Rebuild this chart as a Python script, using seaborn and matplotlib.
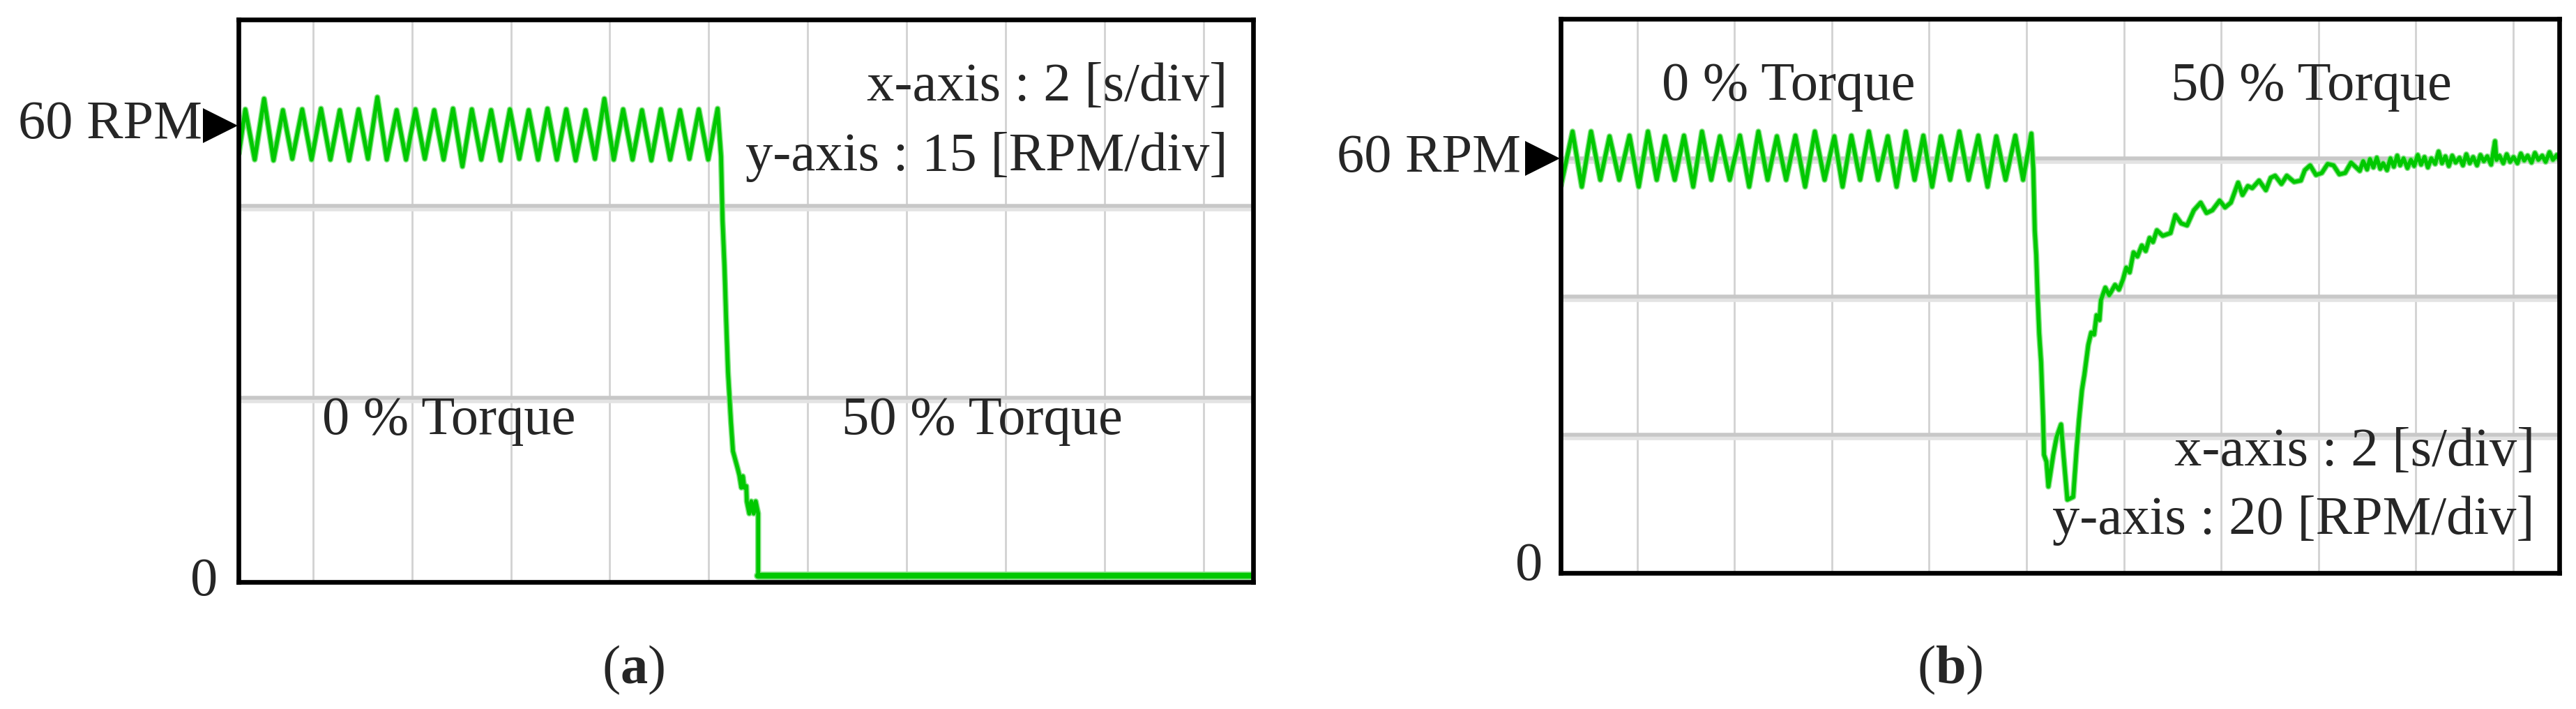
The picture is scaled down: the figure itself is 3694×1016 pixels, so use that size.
import matplotlib
matplotlib.use("Agg")
import matplotlib.pyplot as plt
import seaborn as sns
from matplotlib.transforms import offset_copy

# ---- data ----
# (a) speed before/after 50 % torque step, time in s, speed in RPM
a_peak_t = [0.63, 1.01, 1.39, 1.78, 2.16, 2.54, 2.92, 3.30, 3.69, 4.07, 4.45, 4.83, 5.21,
            5.60, 5.98, 6.36, 6.74, 7.12, 7.51, 7.89, 8.27, 8.65, 9.03, 9.42, 9.80, 10.18]
a_peak_rpm = [62.1, 63.5, 62.0, 62.1, 62.2, 62.0, 62.1, 63.7, 62.0, 62.1, 62.0, 62.2, 62.1,
              62.0, 62.1, 62.0, 62.2, 62.1, 62.0, 63.5, 62.1, 62.0, 62.1, 62.0, 62.1, 62.2]
a_trough_t = [0.82, 1.20, 1.58, 1.97, 2.35, 2.73, 3.11, 3.49, 3.88, 4.26, 4.64, 5.02, 5.40,
              5.79, 6.17, 6.55, 6.93, 7.31, 7.70, 8.08, 8.46, 8.84, 9.22, 9.61, 9.99]
a_trough_rpm = [55.5, 55.4, 55.6, 55.5, 55.5, 55.4, 55.6, 55.5, 55.5, 55.6, 55.5, 54.6, 55.5,
                55.4, 55.6, 55.5, 55.5, 55.4, 55.6, 55.5, 55.5, 55.4, 55.5, 55.6, 55.5]
a_start = (0.50, 56.3)
a_drop_t = [10.25, 10.28, 10.32, 10.35, 10.39, 10.45, 10.49, 10.59, 10.62, 10.66, 10.69,
            10.72, 10.76, 10.77, 10.82, 10.86, 10.91, 10.95, 11.00, 11.00]
a_drop_rpm = [55.9, 47.5, 41.3, 35.0, 27.6, 21.0, 17.2, 14.8, 14.0, 12.4, 13.9,
              12.4, 12.6, 10.6, 9.0, 10.6, 9.0, 10.6, 9.0, 0.8]
a_zero_t = [11.00, 21.02]
a_zero_rpm = [0.8, 0.8]

# (b) speed with speed-loop compensation
b_peak_t = [0.67, 1.05, 1.43, 1.84, 2.22, 2.57, 2.96, 3.33, 3.70, 4.11, 4.49, 4.87, 5.25,
            5.65, 6.05, 6.40, 6.76, 7.15, 7.52, 7.88, 8.24, 8.62, 9.01, 9.38, 9.77, 10.10]
b_peak_rpm = [63.9, 63.9, 63.2, 63.3, 63.9, 63.2, 63.3, 63.9, 63.2, 63.3, 63.9, 63.2, 63.3,
              63.9, 63.2, 63.3, 63.9, 63.2, 63.9, 63.3, 63.2, 63.9, 63.3, 63.2, 63.3, 63.6]
b_trough_t = [0.86, 1.24, 1.63, 2.03, 2.40, 2.77, 3.15, 3.52, 3.90, 4.30, 4.68, 5.06, 5.45,
              5.85, 6.22, 6.58, 6.95, 7.33, 7.70, 8.06, 8.43, 8.81, 9.20, 9.57, 9.93]
b_trough_rpm = [55.9, 56.9, 56.9, 55.9, 56.9, 56.9, 55.9, 56.9, 56.9, 55.9, 56.9, 56.9, 55.9,
                56.9, 55.9, 56.9, 56.9, 55.9, 56.9, 55.9, 56.9, 56.9, 55.9, 56.9, 56.9]
b_start = (0.43, 56.0)
b_dip_t = [10.14, 10.17, 10.20, 10.23, 10.26, 10.30, 10.32, 10.34, 10.36, 10.41, 10.45,
           10.55, 10.62, 10.71, 10.76, 10.84, 10.96, 11.03, 11.08, 11.14, 11.19, 11.27,
           11.33, 11.39, 11.44, 11.50, 11.53, 11.62, 11.70, 11.82, 11.90, 11.98, 12.05,
           12.12, 12.20, 12.28, 12.37, 12.45, 12.53, 12.60, 12.68, 12.80, 12.96, 13.06,
           13.18, 13.30, 13.44, 13.58, 13.70, 13.82, 13.97, 14.08, 14.20, 14.35, 14.44,
           14.55, 14.64, 14.78, 14.92, 15.02, 15.11, 15.24, 15.35, 15.50, 15.64, 15.72,
           15.83, 15.95, 16.07, 16.19, 16.31, 16.43, 16.55, 16.67, 16.79]
b_dip_rpm = [58.4, 49.6, 46.0, 39.9, 34.8, 30.5, 26.5, 22.6, 17.1, 16.1, 12.5,
             17.1, 19.7, 21.5, 17.1, 10.6, 11.0, 17.9, 22.2, 26.5, 28.7, 33.0,
             34.8, 34.5, 37.3, 36.6, 39.5, 41.3, 40.2, 41.7, 41.0, 42.4, 44.2,
             43.5, 46.4, 45.8, 47.4, 46.6, 48.5, 47.9, 49.6, 48.8, 49.2, 51.8,
             50.6, 50.3, 52.5, 53.6, 52.1, 52.5, 53.9, 52.9, 53.6, 56.5, 54.7,
             56.0, 55.7, 56.8, 55.4, 57.2, 57.5, 56.3, 57.5, 56.6, 56.8, 58.3,
             59.0, 57.6, 57.9, 59.2, 59.0, 57.7, 57.9, 59.4, 58.6]
b_tail_t = [16.85, 16.92, 17.00, 17.06, 17.13, 17.20, 17.27, 17.33, 17.41, 17.48, 17.55,
            17.62, 17.68, 17.75, 17.83, 17.90, 17.97, 18.04, 18.11, 18.18, 18.25, 18.32,
            18.40, 18.47, 18.54, 18.61, 18.68, 18.75, 18.82, 18.90, 18.97, 19.04, 19.11,
            19.18, 19.26, 19.33, 19.40, 19.47, 19.55, 19.63, 19.66, 19.72, 19.80, 19.87,
            19.94, 20.01, 20.09, 20.16, 20.23, 20.30, 20.38, 20.45, 20.52, 20.60, 20.67,
            20.75, 20.82, 20.90, 20.96]
b_tail_rpm = [58.2, 59.6, 58.4, 59.9, 58.7, 60.1, 58.5, 59.3, 58.3, 60.0, 58.8,
              60.4, 59.0, 60.0, 58.6, 59.8, 58.9, 60.5, 59.1, 60.2, 58.7, 60.0,
              59.2, 61.0, 59.3, 60.3, 58.9, 60.4, 59.4, 60.1, 59.0, 60.6, 59.3,
              60.2, 59.0, 60.5, 59.6, 60.3, 59.1, 62.5, 59.8, 60.4, 59.3, 60.6,
              59.5, 60.2, 59.3, 60.7, 59.7, 60.4, 59.4, 60.8, 59.8, 60.4, 59.5,
              60.9, 59.8, 60.5, 59.7]

x_grid = [2, 4, 6, 8, 10, 12, 14, 16, 18, 20]
a_ygrid = [24.2, 49.4]
b_ygrid = [20, 40, 60]


def build_trace(start, peak_t, peak_v, trough_t, trough_v, tail_t, tail_v):
    t = [start[0]]
    v = [start[1]]
    for i in range(len(peak_t)):
        t.append(peak_t[i]); v.append(peak_v[i])
        if i < len(trough_t):
            t.append(trough_t[i]); v.append(trough_v[i])
    return t + tail_t, v + tail_v


a_t, a_rpm = build_trace(a_start, a_peak_t, a_peak_rpm, a_trough_t, a_trough_rpm,
                         a_drop_t, a_drop_rpm)
b_t, b_rpm = build_trace(b_start, b_peak_t, b_peak_rpm, b_trough_t, b_trough_rpm,
                         b_dip_t + b_tail_t, b_dip_rpm + b_tail_rpm)

sns.set_style("white")
plt.rcParams['font.family'] = ['Liberation Serif', 'DejaVu Serif']
plt.rcParams['mathtext.fontset'] = 'custom'
plt.rcParams['mathtext.rm'] = 'Liberation Serif'
plt.rcParams['mathtext.bf'] = 'Liberation Serif:bold'

GREEN = '#00c800'
HALO = '#86e286'
FS = 56.5

fig = plt.figure(figsize=(36.94, 10.16), dpi=100)
ax_a = fig.add_axes([0.0926, 0.1791, 0.3939, 0.7933])
ax_b = fig.add_axes([0.6058, 0.1919, 0.3877, 0.7815])


def setup(ax, xlim, ylim, ygrid):
    ax.set_xlim(*xlim)
    ax.set_ylim(*ylim)
    ax.set_xticks([])
    ax.set_yticks([])
    for s in ax.spines.values():
        s.set_visible(True)
        s.set_color('black')
        s.set_linewidth(4.8)
        s.set_zorder(5)
    for x in x_grid:
        ax.axvline(x, color='#d2d2d2', lw=2.0, zorder=1)
    # scope grid: darker line with a pale band just below it
    low = offset_copy(ax.transData, fig=fig, x=0, y=-5, units='dots')
    for y in ygrid:
        ax.plot(xlim, [y, y], color='#e3e3e3', lw=4, zorder=1, transform=low)
        ax.axhline(y, color='#c8c8c8', lw=4, zorder=1.2)


def trace(ax, t, v, lw_core=4.0, lw_halo=6.2):
    sns.lineplot(x=t, y=v, ax=ax, estimator=None, sort=False, color=HALO,
                 lw=lw_halo, zorder=3)
    sns.lineplot(x=t, y=v, ax=ax, estimator=None, sort=False, color=GREEN,
                 lw=lw_core, zorder=4)


def speed_marker(ax, y, gap_px):
    ytr = ax.get_yaxis_transform()
    ax.plot([0], [y], marker='>', ms=36, mew=0, color='black', clip_on=False,
            transform=offset_copy(ytr, fig=fig, x=-26, y=0, units='dots'), zorder=6)
    ax.annotate('60 RPM', xy=(0, y), xycoords=ytr, xytext=(-gap_px / 1.389, 0),
                textcoords='offset points', ha='right', va='center', fontsize=FS)


def zero_label(ax, gap_px, dy_px):
    ax.annotate('0', xy=(0, 0), xycoords=ax.get_yaxis_transform(),
                xytext=(-gap_px / 1.389, dy_px / 1.389), textcoords='offset points',
                ha='right', va='center', fontsize=FS)


# ---- (a) ----
setup(ax_a, (0.493, 21.01), (0, 73.9), a_ygrid)
trace(ax_a, a_t, a_rpm)
trace(ax_a, a_zero_t, a_zero_rpm, lw_core=6.0, lw_halo=8.5)
speed_marker(ax_a, 60, 52)
zero_label(ax_a, 30, 0)
ax_a.text(0.207, 0.263, '0 % Torque', transform=ax_a.transAxes, ha='center',
          va='baseline', fontsize=FS)
ax_a.text(0.733, 0.263, '50 % Torque', transform=ax_a.transAxes, ha='center',
          va='baseline', fontsize=FS)
ax_a.text(0.975, 0.856, 'x-axis : 2 [s/div]', transform=ax_a.transAxes, ha='right',
          va='baseline', fontsize=FS)
ax_a.text(0.975, 0.732, 'y-axis : 15 [RPM/div]', transform=ax_a.transAxes, ha='right',
          va='baseline', fontsize=FS)

# ---- (b) ----
setup(ax_b, (0.423, 20.95), (0, 80.2), b_ygrid)
trace(ax_b, b_t, b_rpm)
speed_marker(ax_b, 60, 57)
zero_label(ax_b, 26, 9)
ax_b.text(0.228, 0.854, '0 % Torque', transform=ax_b.transAxes, ha='center',
          va='baseline', fontsize=FS)
ax_b.text(0.752, 0.854, '50 % Torque', transform=ax_b.transAxes, ha='center',
          va='baseline', fontsize=FS)
ax_b.text(0.9755, 0.194, 'x-axis : 2 [s/div]', transform=ax_b.transAxes, ha='right',
          va='baseline', fontsize=FS)
ax_b.text(0.9755, 0.0705, 'y-axis : 20 [RPM/div]', transform=ax_b.transAxes, ha='right',
          va='baseline', fontsize=FS)

fig.text(0.2458, 0.055, r'$\mathrm{(}\mathbf{a}\mathrm{)}$', ha='center', va='center',
         fontsize=FS)
fig.text(0.757, 0.055, r'$\mathrm{(}\mathbf{b}\mathrm{)}$', ha='center', va='center',
         fontsize=FS)

fig.savefig('out.png', dpi=100, facecolor='white')
